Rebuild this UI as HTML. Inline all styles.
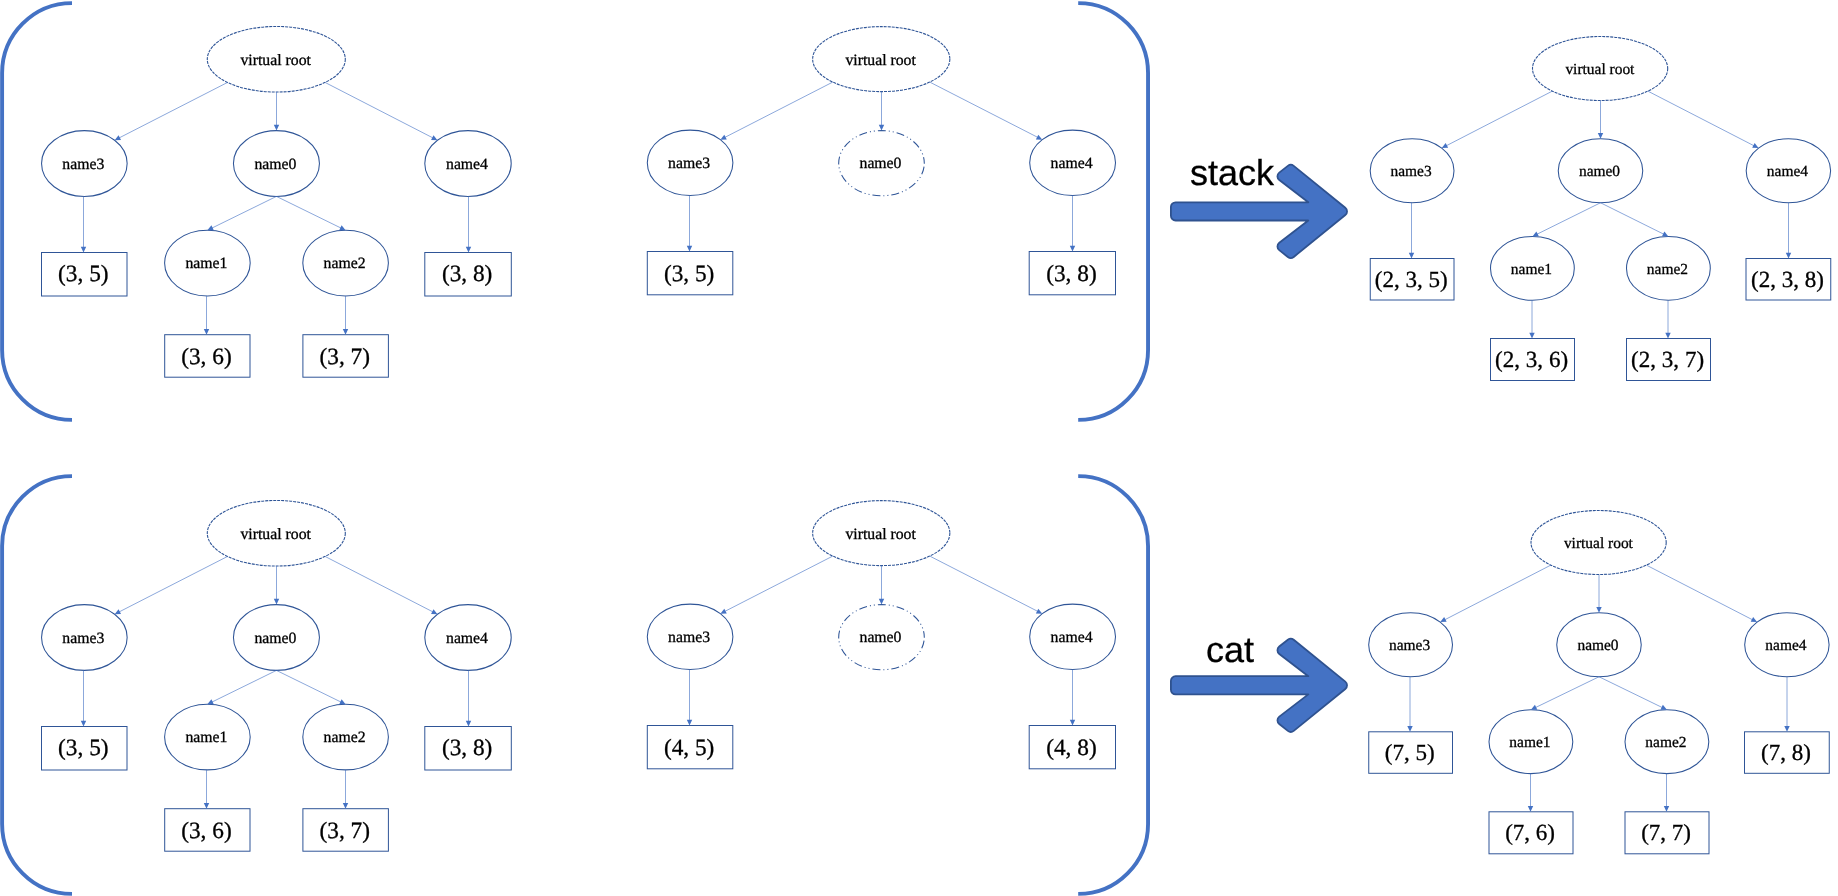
<!DOCTYPE html>
<html lang="en">
<head>
<meta charset="utf-8">
<title>stack / cat tree diagram</title>
<style>
html,body{margin:0;padding:0;background:#fff;}
body{width:1838px;height:896px;overflow:hidden;}
svg{display:block;will-change:transform;}
text{text-rendering:geometricPrecision;}
.el{fill:none;stroke:#2F5597;stroke-width:1.05;}
.eld{fill:none;stroke:#2F5597;stroke-width:1.1;}
.bx{fill:none;stroke:#2F5597;stroke-width:1;}
.ln{fill:none;stroke:#4472C4;stroke-width:0.62;}
.ah{fill:#4472C4;stroke:none;}
.br{fill:none;stroke:#4472C4;stroke-width:3.9;}
.big{fill:#4472C4;stroke:#2F528F;stroke-width:1.8;stroke-linejoin:round;}
text{fill:#000;text-anchor:middle;stroke:#000;stroke-width:0.3px;}
.t16{font-family:"Liberation Serif","Times New Roman",serif;font-size:15.75px;}
.t24{font-family:"Liberation Serif","Times New Roman",serif;font-size:23.3px;}
.t16b{font-family:"Liberation Serif","Times New Roman",serif;font-size:15.45px;}
.t24b{font-family:"Liberation Serif","Times New Roman",serif;font-size:23.05px;}
.lab{font-family:"Liberation Sans",Arial,sans-serif;font-size:36px;}
</style>
</head>
<body>
<svg width="1838" height="896" viewBox="0 0 1838 896">
<rect x="0" y="0" width="1838" height="896" fill="#ffffff"/>
<path d="M72 3.1 A70 70 0 0 0 2.1 73.1 V349.9 A70 70 0 0 0 72 419.9" class="br"/>
<path d="M1078.2 3.1 A70 70 0 0 1 1148.05 73.1 V349.9 A70 70 0 0 1 1078.2 419.9" class="br"/>
<path d="M72 476.1 A70 70 0 0 0 2.1 546.1 V823.9 A70 70 0 0 0 72 893.9" class="br"/>
<path d="M1078.2 476.1 A70 70 0 0 1 1148.05 546.1 V823.9 A70 70 0 0 1 1078.2 893.9" class="br"/>
<ellipse cx="276.3" cy="59.25" rx="69" ry="32.8" class="eld" stroke-dasharray="3 1"/>
<ellipse cx="84.35" cy="163.5" rx="42.8" ry="32.9" class="el"/>
<ellipse cx="468" cy="163.5" rx="43.2" ry="32.9" class="el"/>
<ellipse cx="276.45" cy="163.5" rx="43" ry="32.9" class="el"/>
<path d="M227.51 82.44L118.89 138.05" class="ln"/>
<path d="M114.61 140.24L118.55 135.19L121.01 140Z" class="ah"/>
<path d="M276.5 92.05L276.5 125.8" class="ln"/>
<path d="M276.5 130.6L273.8 124.8L279.2 124.8Z" class="ah"/>
<path d="M325.09 82.44L433.18 138.04" class="ln"/>
<path d="M437.45 140.24L431.06 139.98L433.53 135.18Z" class="ah"/>
<text x="275.7" y="64.75" class="t16">virtual root</text>
<text x="83.35" y="169" class="t16">name3</text>
<text x="275.45" y="169" class="t16">name0</text>
<text x="467" y="169" class="t16">name4</text>
<rect x="41.5" y="252.5" width="85.5" height="43.5" class="bx"/>
<rect x="424.8" y="252.5" width="86.5" height="43.5" class="bx"/>
<path d="M83.5 196.4L83.5 247.7" class="ln"/>
<path d="M83.5 252.5L80.8 246.7L86.2 246.7Z" class="ah"/>
<path d="M468.5 196.4L468.5 247.7" class="ln"/>
<path d="M468.5 252.5L465.8 246.7L471.2 246.7Z" class="ah"/>
<text x="83.35" y="281.4" class="t24">(3, 5)</text>
<text x="467.15" y="281.4" class="t24">(3, 8)</text>
<ellipse cx="207.4" cy="263.1" rx="42.8" ry="32.8" class="el"/>
<ellipse cx="345.6" cy="263.1" rx="42.8" ry="32.8" class="el"/>
<path d="M276.45 196.4L211.71 228.18" class="ln"/>
<path d="M207.4 230.3L211.42 225.32L213.8 230.17Z" class="ah"/>
<path d="M276.45 196.4L341.29 228.19" class="ln"/>
<path d="M345.6 230.3L339.2 230.17L341.58 225.32Z" class="ah"/>
<text x="206.4" y="267.5" class="t16">name1</text>
<text x="344.6" y="267.5" class="t16">name2</text>
<rect x="164.7" y="334.7" width="85.3" height="42.5" class="bx"/>
<rect x="302.9" y="334.7" width="85.5" height="42.5" class="bx"/>
<path d="M206.5 295.9L206.5 329.9" class="ln"/>
<path d="M206.5 334.7L203.8 328.9L209.2 328.9Z" class="ah"/>
<path d="M345.5 295.9L345.5 329.9" class="ln"/>
<path d="M345.5 334.7L342.8 328.9L348.2 328.9Z" class="ah"/>
<text x="206.45" y="363.6" class="t24">(3, 6)</text>
<text x="344.75" y="363.6" class="t24">(3, 7)</text>
<ellipse cx="881.25" cy="59.1" rx="68.6" ry="32.5" class="eld" stroke-dasharray="3 1"/>
<ellipse cx="690.1" cy="162.8" rx="42.8" ry="32.7" class="el"/>
<ellipse cx="1072.6" cy="162.8" rx="42.9" ry="32.7" class="el"/>
<ellipse cx="881.5" cy="163.2" rx="42.8" ry="32.6" class="el" stroke-dasharray="8 3 1 3 1 3" stroke-dashoffset="15.5"/>
<path d="M832.74 82.08L724.64 137.49" class="ln"/>
<path d="M720.36 139.68L724.29 134.63L726.76 139.43Z" class="ah"/>
<path d="M881.5 91.6L881.5 125.8" class="ln"/>
<path d="M881.5 130.6L878.8 124.8L884.2 124.8Z" class="ah"/>
<path d="M929.76 82.08L1037.99 137.49" class="ln"/>
<path d="M1042.27 139.68L1035.87 139.44L1038.33 134.63Z" class="ah"/>
<text x="880.65" y="64.6" class="t16">virtual root</text>
<text x="689.1" y="168" class="t16">name3</text>
<text x="880.5" y="167.7" class="t16">name0</text>
<text x="1071.6" y="168" class="t16">name4</text>
<rect x="647.3" y="251.5" width="85.5" height="43.3" class="bx"/>
<rect x="1029.2" y="251.5" width="86.3" height="43.3" class="bx"/>
<path d="M689.5 195.5L689.5 246.7" class="ln"/>
<path d="M689.5 251.5L686.8 245.7L692.2 245.7Z" class="ah"/>
<path d="M1072.5 195.5L1072.5 246.7" class="ln"/>
<path d="M1072.5 251.5L1069.8 245.7L1075.2 245.7Z" class="ah"/>
<text x="689.15" y="280.75" class="t24">(3, 5)</text>
<text x="1071.45" y="280.75" class="t24">(3, 8)</text>
<ellipse cx="1600.1" cy="68.5" rx="67.6" ry="32" class="eld" stroke-dasharray="3 1"/>
<ellipse cx="1412.1" cy="170.75" rx="41.9" ry="32" class="el"/>
<ellipse cx="1788.4" cy="170.75" rx="42.2" ry="32" class="el"/>
<ellipse cx="1600.5" cy="170.75" rx="42.25" ry="32" class="el"/>
<path d="M1552.3 91.13L1445.99 145.92" class="ln"/>
<path d="M1441.73 148.12L1445.65 143.07L1448.12 147.87Z" class="ah"/>
<path d="M1600.5 100.5L1600.5 133.95" class="ln"/>
<path d="M1600.5 138.75L1597.8 132.95L1603.2 132.95Z" class="ah"/>
<path d="M1647.9 91.13L1754.29 145.92" class="ln"/>
<path d="M1758.56 148.12L1752.17 147.87L1754.64 143.07Z" class="ah"/>
<text x="1599.9" y="74" class="t16b">virtual root</text>
<text x="1411.1" y="176.25" class="t16b">name3</text>
<text x="1599.5" y="176.25" class="t16b">name0</text>
<text x="1787.4" y="176.25" class="t16b">name4</text>
<rect x="1370.25" y="258.5" width="83.75" height="41.5" class="bx"/>
<rect x="1746" y="258.5" width="84.75" height="41.5" class="bx"/>
<path d="M1411.5 202.75L1411.5 253.7" class="ln"/>
<path d="M1411.5 258.5L1408.8 252.7L1414.2 252.7Z" class="ah"/>
<path d="M1788.5 202.75L1788.5 253.7" class="ln"/>
<path d="M1788.5 258.5L1785.8 252.7L1791.2 252.7Z" class="ah"/>
<text x="1411.22" y="287.15" class="t24b">(2, 3, 5)</text>
<text x="1787.47" y="287.15" class="t24b">(2, 3, 8)</text>
<ellipse cx="1532.4" cy="268.4" rx="41.9" ry="31.9" class="el"/>
<ellipse cx="1668.4" cy="268.4" rx="41.9" ry="31.9" class="el"/>
<path d="M1600.5 202.75L1536.7 234.37" class="ln"/>
<path d="M1532.4 236.5L1536.4 231.51L1538.8 236.34Z" class="ah"/>
<path d="M1600.5 202.75L1664.1 234.36" class="ln"/>
<path d="M1668.4 236.5L1662 236.34L1664.41 231.5Z" class="ah"/>
<text x="1531.4" y="273.8" class="t16b">name1</text>
<text x="1667.4" y="273.8" class="t16b">name2</text>
<rect x="1490.5" y="338.5" width="84" height="42" class="bx"/>
<rect x="1626.5" y="338.5" width="84" height="42" class="bx"/>
<path d="M1532 300.3L1532 333.7" class="ln"/>
<path d="M1532 338.5L1529.3 332.7L1534.7 332.7Z" class="ah"/>
<path d="M1668 300.3L1668 333.7" class="ln"/>
<path d="M1668 338.5L1665.3 332.7L1670.7 332.7Z" class="ah"/>
<text x="1531.6" y="366.65" class="t24b">(2, 3, 6)</text>
<text x="1667.6" y="366.65" class="t24b">(2, 3, 7)</text>
<ellipse cx="276.3" cy="533.25" rx="69" ry="32.8" class="eld" stroke-dasharray="3 1"/>
<ellipse cx="84.35" cy="637.5" rx="42.8" ry="32.9" class="el"/>
<ellipse cx="468" cy="637.5" rx="43.2" ry="32.9" class="el"/>
<ellipse cx="276.45" cy="637.5" rx="43" ry="32.9" class="el"/>
<path d="M227.51 556.44L118.89 612.05" class="ln"/>
<path d="M114.61 614.24L118.55 609.19L121.01 614Z" class="ah"/>
<path d="M276.5 566.05L276.5 599.8" class="ln"/>
<path d="M276.5 604.6L273.8 598.8L279.2 598.8Z" class="ah"/>
<path d="M325.09 556.44L433.18 612.04" class="ln"/>
<path d="M437.45 614.24L431.06 613.98L433.53 609.18Z" class="ah"/>
<text x="275.7" y="538.75" class="t16">virtual root</text>
<text x="83.35" y="643" class="t16">name3</text>
<text x="275.45" y="643" class="t16">name0</text>
<text x="467" y="643" class="t16">name4</text>
<rect x="41.5" y="726.5" width="85.5" height="43.5" class="bx"/>
<rect x="424.8" y="726.5" width="86.5" height="43.5" class="bx"/>
<path d="M83.5 670.4L83.5 721.7" class="ln"/>
<path d="M83.5 726.5L80.8 720.7L86.2 720.7Z" class="ah"/>
<path d="M468.5 670.4L468.5 721.7" class="ln"/>
<path d="M468.5 726.5L465.8 720.7L471.2 720.7Z" class="ah"/>
<text x="83.35" y="755.4" class="t24">(3, 5)</text>
<text x="467.15" y="755.4" class="t24">(3, 8)</text>
<ellipse cx="207.4" cy="737.1" rx="42.8" ry="32.8" class="el"/>
<ellipse cx="345.6" cy="737.1" rx="42.8" ry="32.8" class="el"/>
<path d="M276.45 670.4L211.71 702.18" class="ln"/>
<path d="M207.4 704.3L211.42 699.32L213.8 704.17Z" class="ah"/>
<path d="M276.45 670.4L341.29 702.19" class="ln"/>
<path d="M345.6 704.3L339.2 704.17L341.58 699.32Z" class="ah"/>
<text x="206.4" y="741.5" class="t16">name1</text>
<text x="344.6" y="741.5" class="t16">name2</text>
<rect x="164.7" y="808.7" width="85.3" height="42.5" class="bx"/>
<rect x="302.9" y="808.7" width="85.5" height="42.5" class="bx"/>
<path d="M206.5 769.9L206.5 803.9" class="ln"/>
<path d="M206.5 808.7L203.8 802.9L209.2 802.9Z" class="ah"/>
<path d="M345.5 769.9L345.5 803.9" class="ln"/>
<path d="M345.5 808.7L342.8 802.9L348.2 802.9Z" class="ah"/>
<text x="206.45" y="837.6" class="t24">(3, 6)</text>
<text x="344.75" y="837.6" class="t24">(3, 7)</text>
<ellipse cx="881.25" cy="533.1" rx="68.6" ry="32.5" class="eld" stroke-dasharray="3 1"/>
<ellipse cx="690.1" cy="636.8" rx="42.8" ry="32.7" class="el"/>
<ellipse cx="1072.6" cy="636.8" rx="42.9" ry="32.7" class="el"/>
<ellipse cx="881.5" cy="637.2" rx="42.8" ry="32.6" class="el" stroke-dasharray="8 3 1 3 1 3" stroke-dashoffset="15.5"/>
<path d="M832.74 556.08L724.64 611.49" class="ln"/>
<path d="M720.36 613.68L724.29 608.63L726.76 613.43Z" class="ah"/>
<path d="M881.5 565.6L881.5 599.8" class="ln"/>
<path d="M881.5 604.6L878.8 598.8L884.2 598.8Z" class="ah"/>
<path d="M929.76 556.08L1037.99 611.49" class="ln"/>
<path d="M1042.27 613.68L1035.87 613.44L1038.33 608.63Z" class="ah"/>
<text x="880.65" y="538.6" class="t16">virtual root</text>
<text x="689.1" y="642" class="t16">name3</text>
<text x="880.5" y="641.7" class="t16">name0</text>
<text x="1071.6" y="642" class="t16">name4</text>
<rect x="647.3" y="725.5" width="85.5" height="43.3" class="bx"/>
<rect x="1029.2" y="725.5" width="86.3" height="43.3" class="bx"/>
<path d="M689.5 669.5L689.5 720.7" class="ln"/>
<path d="M689.5 725.5L686.8 719.7L692.2 719.7Z" class="ah"/>
<path d="M1072.5 669.5L1072.5 720.7" class="ln"/>
<path d="M1072.5 725.5L1069.8 719.7L1075.2 719.7Z" class="ah"/>
<text x="689.15" y="754.75" class="t24">(4, 5)</text>
<text x="1071.45" y="754.75" class="t24">(4, 8)</text>
<ellipse cx="1598.6" cy="542.5" rx="67.6" ry="32" class="eld" stroke-dasharray="3 1"/>
<ellipse cx="1410.6" cy="644.75" rx="41.9" ry="32" class="el"/>
<ellipse cx="1786.9" cy="644.75" rx="42.2" ry="32" class="el"/>
<ellipse cx="1599" cy="644.75" rx="42.25" ry="32" class="el"/>
<path d="M1550.8 565.13L1444.49 619.92" class="ln"/>
<path d="M1440.23 622.12L1444.15 617.07L1446.62 621.87Z" class="ah"/>
<path d="M1599 574.5L1599 607.95" class="ln"/>
<path d="M1599 612.75L1596.3 606.95L1601.7 606.95Z" class="ah"/>
<path d="M1646.4 565.13L1752.79 619.92" class="ln"/>
<path d="M1757.06 622.12L1750.67 621.87L1753.14 617.07Z" class="ah"/>
<text x="1598.4" y="548" class="t16b">virtual root</text>
<text x="1409.6" y="650.25" class="t16b">name3</text>
<text x="1598" y="650.25" class="t16b">name0</text>
<text x="1785.9" y="650.25" class="t16b">name4</text>
<rect x="1368.75" y="731.8" width="83.75" height="41.5" class="bx"/>
<rect x="1744.5" y="731.8" width="84.75" height="41.5" class="bx"/>
<path d="M1410 676.75L1410 727" class="ln"/>
<path d="M1410 731.8L1407.3 726L1412.7 726Z" class="ah"/>
<path d="M1787 676.75L1787 727" class="ln"/>
<path d="M1787 731.8L1784.3 726L1789.7 726Z" class="ah"/>
<text x="1409.72" y="760.45" class="t24b">(7, 5)</text>
<text x="1785.97" y="760.45" class="t24b">(7, 8)</text>
<ellipse cx="1530.9" cy="741.7" rx="41.9" ry="31.9" class="el"/>
<ellipse cx="1666.9" cy="741.7" rx="41.9" ry="31.9" class="el"/>
<path d="M1599 676.75L1535.22 707.7" class="ln"/>
<path d="M1530.9 709.8L1534.94 704.84L1537.3 709.7Z" class="ah"/>
<path d="M1599 676.75L1662.58 707.7" class="ln"/>
<path d="M1666.9 709.8L1660.5 709.69L1662.87 704.83Z" class="ah"/>
<text x="1529.9" y="747.1" class="t16b">name1</text>
<text x="1665.9" y="747.1" class="t16b">name2</text>
<rect x="1489" y="811.8" width="84" height="42" class="bx"/>
<rect x="1625" y="811.8" width="84" height="42" class="bx"/>
<path d="M1530.5 773.6L1530.5 807" class="ln"/>
<path d="M1530.5 811.8L1527.8 806L1533.2 806Z" class="ah"/>
<path d="M1666.5 773.6L1666.5 807" class="ln"/>
<path d="M1666.5 811.8L1663.8 806L1669.2 806Z" class="ah"/>
<text x="1530.1" y="839.95" class="t24b">(7, 6)</text>
<text x="1666.1" y="839.95" class="t24b">(7, 7)</text>
<path d="M1170.9 207A4.7 4.7 0 0 1 1175.6 202.3L1308.3 202.3L1279.29 180.07A4.7 4.7 0 0 1 1279.23 172.65L1287.85 165.84A4.7 4.7 0 0 1 1293.72 165.87L1345.31 207.75A4.7 4.7 0 0 1 1345.31 215.05L1293.72 256.93A4.7 4.7 0 0 1 1287.85 256.96L1279.23 250.15A4.7 4.7 0 0 1 1279.29 242.73L1308.3 220.5L1175.6 220.5A4.7 4.7 0 0 1 1170.9 215.8Z" class="big"/>
<text x="1232" y="184.6" class="lab">stack</text>
<path d="M1170.9 680.9A4.7 4.7 0 0 1 1175.6 676.2L1308.3 676.2L1279.29 653.97A4.7 4.7 0 0 1 1279.23 646.55L1287.85 639.74A4.7 4.7 0 0 1 1293.72 639.77L1345.31 681.65A4.7 4.7 0 0 1 1345.31 688.95L1293.72 730.83A4.7 4.7 0 0 1 1287.85 730.86L1279.23 724.05A4.7 4.7 0 0 1 1279.29 716.63L1308.3 694.4L1175.6 694.4A4.7 4.7 0 0 1 1170.9 689.7Z" class="big"/>
<text x="1229.9" y="662.3" class="lab">cat</text>
</svg>
</body>
</html>
